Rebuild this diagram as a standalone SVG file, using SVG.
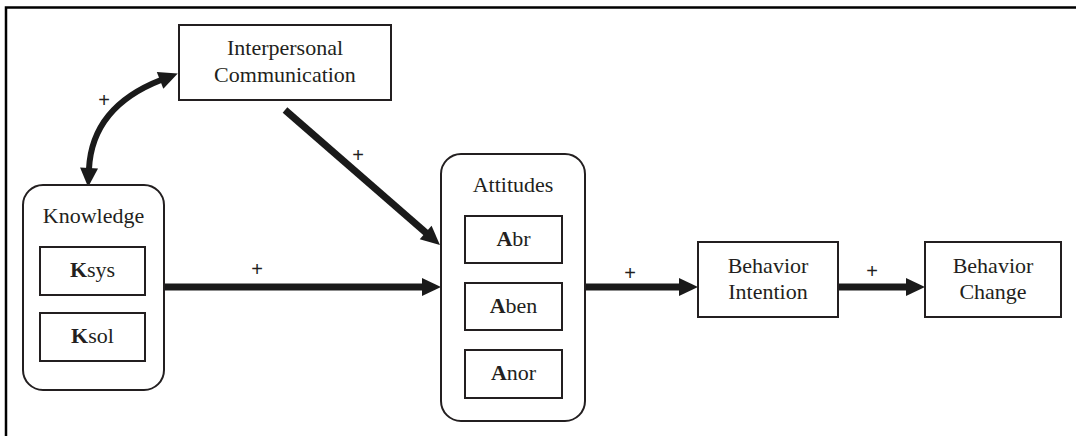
<svg xmlns="http://www.w3.org/2000/svg" width="1076" height="436" viewBox="0 0 1076 436">
<style>
.box{fill:#fff;stroke:#231f20;stroke-width:2}
.t{font-family:'Liberation Serif','Times New Roman',serif;font-size:22px;fill:#231f20;text-anchor:middle}
.b{font-weight:bold}
.plus{font-family:'Liberation Sans',Arial,sans-serif;font-size:20px;fill:#231f20;text-anchor:middle}
.arr{fill:none;stroke:#1a1a1a;stroke-width:7}
.crv{fill:none;stroke:#1a1a1a;stroke-width:6}
</style>
<defs>
<marker id="ah" markerUnits="userSpaceOnUse" markerWidth="20" markerHeight="20" refX="1" refY="9" orient="auto-start-reverse" overflow="visible">
<path d="M0,0 L19,9 L0,18 z" fill="#1a1a1a"/>
</marker>
</defs>
<rect width="1076" height="436" fill="#fff"/>
<path d="M6,436 V7.5 H1076" fill="none" stroke="#000" stroke-width="2.5"/>

<g id="connectors">
<path class="crv" d="M89,169 Q92,107 161,80" marker-start="url(#ah)" marker-end="url(#ah)"/>
<path class="arr" d="M285,110 L426.4,233.2" marker-end="url(#ah)"/>
<path class="arr" d="M164,287 H423" marker-end="url(#ah)"/>
<path class="arr" d="M585,287 H680" marker-end="url(#ah)"/>
<path class="arr" d="M838,287 H907" marker-end="url(#ah)"/>
<text class="plus" x="104" y="107">+</text>
<text class="plus" x="358" y="162">+</text>
<text class="plus" x="257" y="276">+</text>
<text class="plus" x="630" y="280">+</text>
<text class="plus" x="872" y="278">+</text>
</g>

<g id="interpersonal">
<rect class="box" x="179" y="25" width="212" height="75"/>
<text class="t" x="285" y="55" font-family="Liberation Serif, serif">Interpersonal</text>
<text class="t" x="285" y="82" font-family="Liberation Serif, serif">Communication</text>
</g>

<g id="knowledge">
<rect class="box" x="23" y="185" width="141" height="205" rx="20"/>
<text class="t" x="93.5" y="223">Knowledge</text>
<rect class="box" x="40" y="247" width="105" height="48"/>
<text class="t" x="92.5" y="277"><tspan class="b">K</tspan>sys</text>
<rect class="box" x="40" y="313" width="105" height="48"/>
<text class="t" x="92.5" y="343"><tspan class="b">K</tspan>sol</text>
</g>

<g id="attitudes">
<rect class="box" x="441" y="154" width="144" height="267" rx="20"/>
<text class="t" x="513" y="192">Attitudes</text>
<rect class="box" x="465" y="216" width="97" height="47"/>
<text class="t" x="513.5" y="246"><tspan class="b">A</tspan>br</text>
<rect class="box" x="465" y="283" width="97" height="47"/>
<text class="t" x="513.5" y="313"><tspan class="b">A</tspan>ben</text>
<rect class="box" x="465" y="350" width="97" height="48"/>
<text class="t" x="513.5" y="380"><tspan class="b">A</tspan>nor</text>
</g>

<g id="intention">
<rect class="box" x="698" y="242" width="140" height="75"/>
<text class="t" x="768" y="273">Behavior</text>
<text class="t" x="768" y="299">Intention</text>
</g>

<g id="change">
<rect class="box" x="925" y="242" width="136" height="75"/>
<text class="t" x="993" y="273">Behavior</text>
<text class="t" x="993" y="299">Change</text>
</g>
</svg>
